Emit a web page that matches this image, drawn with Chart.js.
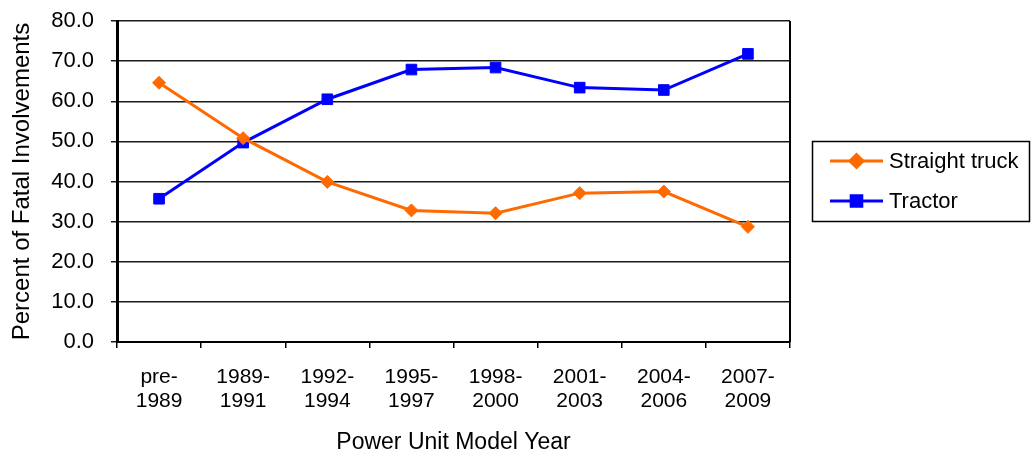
<!DOCTYPE html>
<html>
<head>
<meta charset="utf-8">
<script src="https://cdn.jsdelivr.net/npm/chart.js@4"></script>
<style>
  html, body { margin: 0; padding: 0; background: #fff; }
  #wrap { width: 1032px; height: 458px; }
</style>
</head>
<body>
<div id="wrap"><canvas id="chart" width="1032" height="458"></canvas></div>
<script>
// Data
const modelYears = [['pre-', '1989'], ['1989-', '1991'], ['1992-', '1994'], ['1995-', '1997'],
                    ['1998-', '2000'], ['2001-', '2003'], ['2004-', '2006'], ['2007-', '2009']];
const straightTruck = [64.6, 50.8, 39.9, 32.8, 32.1, 37.1, 37.5, 28.7];
const tractor = [35.7, 49.7, 60.5, 67.9, 68.4, 63.4, 62.8, 71.8];
const yTicks = [0, 10, 20, 30, 40, 50, 60, 70, 80];

const FONT = 'Liberation Sans, Arial, sans-serif';

// Legend box + right frame line
const frameLegend = {
    id: 'frameLegend',
    afterDraw(chart) {
        const ctx = chart.ctx;
        const area = chart.chartArea;
        ctx.save();
        ctx.strokeStyle = '#000';
        ctx.lineWidth = 2;
        ctx.beginPath();
        ctx.moveTo(area.right, area.top);
        ctx.lineTo(area.right, area.bottom);
        ctx.stroke();

        // legend
        ctx.lineWidth = 1.5;
        ctx.strokeRect(812.5, 141.5, 217, 80);
        ctx.font = '22px ' + FONT;
        ctx.textBaseline = 'middle';
        ctx.fillStyle = '#000';
        const rows = [161, 201];
        chart.data.datasets.forEach((ds, i) => {
            const y = rows[i];
            ctx.strokeStyle = ds.borderColor;
            ctx.lineWidth = 3;
            ctx.beginPath();
            ctx.moveTo(830, y);
            ctx.lineTo(883, y);
            ctx.stroke();
            ctx.fillStyle = ds.backgroundColor;
            Chart.helpers.drawPoint(ctx, { pointStyle: ds.pointStyle, radius: ds.pointRadius, borderWidth: 1 }, 856.5, y);
            ctx.fill();
            ctx.fillStyle = '#000';
            ctx.fillText(ds.label, 889, y + 1);
        });
        ctx.restore();
    }
};

new Chart(document.getElementById('chart').getContext('2d'), {
    type: 'line',
    data: {
        labels: modelYears,
        datasets: [
            {
                label: 'Straight truck',
                data: straightTruck,
                borderColor: '#FF6A00',
                backgroundColor: '#FF6A00',
                borderWidth: 3,
                pointStyle: 'rectRot',
                pointRadius: 6.5,
                pointBorderWidth: 1,
                tension: 0
            },
            {
                label: 'Tractor',
                data: tractor,
                borderColor: '#0000FF',
                backgroundColor: '#0000FF',
                borderWidth: 3,
                pointStyle: 'rect',
                pointRadius: 7.5,
                pointBorderWidth: 1,
                tension: 0
            }
        ]
    },
    options: {
        responsive: false,
        animation: false,
        layout: { padding: { left: 0, top: 21, right: 242, bottom: 0 } },
        plugins: {
            legend: { display: false },
            tooltip: { enabled: false }
        },
        scales: {
            x: {
                offset: true,
                grid: {
                    offset: true,
                    drawOnChartArea: false,
                    drawTicks: true,
                    tickLength: 6,
                    color: '#000',
                    lineWidth: 1.5
                },
                border: { color: '#000', width: 2 },
                ticks: {
                    color: '#000',
                    font: { family: FONT, size: 21, lineHeight: 1.15 },
                    padding: 17,
                    maxRotation: 0,
                    autoSkip: false
                },
                title: {
                    display: true,
                    text: 'Power Unit Model Year',
                    color: '#000',
                    font: { family: FONT, size: 23 },
                    padding: { top: 0, bottom: 2 }
                },
                afterFit(scale) { scale.height = 116; }
            },
            y: {
                min: 0,
                max: 80,
                afterBuildTicks(scale) { scale.ticks = yTicks.map(v => ({ value: v })); },
                grid: {
                    color: '#1a1a1a',
                    lineWidth: 1.5,
                    tickLength: 6
                },
                border: { color: '#000', width: 3 },
                ticks: {
                    color: '#000',
                    font: { family: FONT, size: 22 },
                    padding: 17,
                    callback: v => v.toFixed(1)
                },
                title: {
                    display: true,
                    text: 'Percent of Fatal Involvements',
                    color: '#000',
                    font: { family: FONT, size: 24 },
                    padding: { top: 8, bottom: 0 }
                },
                afterFit(scale) {
                    scale.width = 117;
                    // don't let label padding push the plot area down
                    scale.paddingTop = 0;
                    scale.paddingBottom = 0;
                }
            }
        }
    },
    plugins: [frameLegend]
});
</script>
</body>
</html>
